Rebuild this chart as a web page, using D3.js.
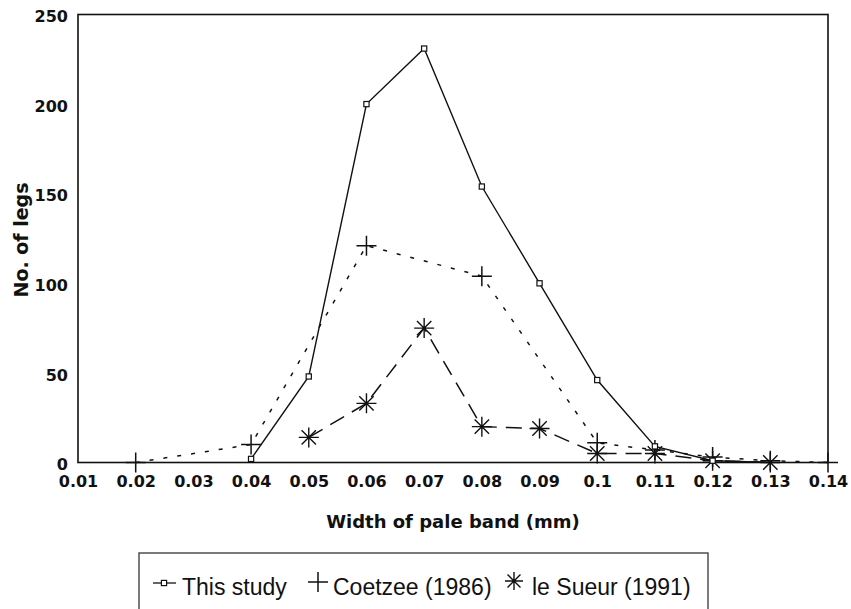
<!DOCTYPE html>
<html><head><meta charset="utf-8">
<script src="https://cdn.jsdelivr.net/npm/d3@7"></script>
<style>body{margin:0;background:#fff}svg{display:block}text{fill:#111}</style>
</head><body>
<svg id="c" width="851" height="609"></svg>
<script>
const xTicks = [0.01,0.02,0.03,0.04,0.05,0.06,0.07,0.08,0.09,0.1,0.11,0.12,0.13,0.14];
const yTicks = [0,50,100,150,200,250];
const thisStudyX = [0.04,0.05,0.06,0.07,0.08,0.09,0.1,0.11,0.12,0.13];
const thisStudyY = [2,48,200,231,154,100,46,9,1,0];
const coetzeeX = [0.02,0.04,0.06,0.08,0.1,0.11,0.12,0.13,0.14];
const coetzeeY = [0,10,121,104,11,7,3,1,0];
const sueurX = [0.05,0.06,0.07,0.08,0.09,0.1,0.11,0.12,0.13];
const sueurY = [14,33,75,20,19,5,5,1,0];
const legendLabels = ["This study","Coetzee (1986)","le Sueur (1991)"];

const svg = d3.select("#c");
const x = d3.scaleLinear().domain([0.01,0.14]).range([78,828]);
const y = d3.scaleLinear().domain([0,250]).range([462.5,14.5]);
const ink = "#111";
const axFont = "'DejaVu Sans',Verdana,sans-serif";
const lgFont = "Arial,'Liberation Sans',Helvetica,sans-serif";

svg.append("rect").attr("x",78).attr("y",14.5).attr("width",750).attr("height",448)
  .attr("fill","none").attr("stroke",ink).attr("stroke-width",1.6);

const xa = svg.append("g").attr("transform","translate(0,462.5)")
  .call(d3.axisBottom(x).tickValues(xTicks).tickSize(0).tickPadding(13).tickFormat(d=>String(+d.toFixed(2))));
xa.select(".domain").remove();
xa.selectAll("text").attr("font-size",16).attr("font-weight","bold").attr("font-family",axFont).style("fill",ink);
const ya = svg.append("g").attr("transform","translate(78,2)")
  .call(d3.axisLeft(y).tickValues(yTicks).tickSize(0).tickPadding(10));
ya.select(".domain").remove();
ya.selectAll("text").attr("font-size",16).attr("font-weight","bold").attr("font-family",axFont).style("fill",ink);

svg.append("text").attr("x",453).attr("y",528).attr("text-anchor","middle").attr("font-family",axFont)
  .attr("font-size",18).attr("font-weight","bold").text("Width of pale band (mm)");
svg.append("text").attr("transform","translate(28,240) rotate(-90)").attr("text-anchor","middle").attr("font-family",axFont)
  .attr("font-size",19).attr("font-weight","bold").text("No. of legs");

const line = d3.line().x(d=>x(d[0])).y(d=>y(d[1]));
const zip = (a,b)=>a.map((v,i)=>[v,b[i]]);
const ts = zip(thisStudyX,thisStudyY), co = zip(coetzeeX,coetzeeY), su = zip(sueurX,sueurY);

svg.append("path").datum(co).attr("d",line).attr("fill","none").attr("stroke",ink)
  .attr("stroke-width",1.5).attr("stroke-dasharray","4,10");
svg.append("path").datum(su).attr("d",line).attr("fill","none").attr("stroke",ink)
  .attr("stroke-width",1.5).attr("stroke-dasharray","16,9");
svg.append("path").datum(ts).attr("d",line).attr("fill","none").attr("stroke",ink)
  .attr("stroke-width",1.4);

function plus(g,cx,cy,s){
  g.append("path").attr("d",`M${cx-s},${cy}H${cx+s}M${cx},${cy-s}V${cy+s}`)
   .attr("stroke",ink).attr("stroke-width",1.5).attr("fill","none");
}
function star(g,cx,cy,s){
  const d=s*0.72;
  g.append("path").attr("d",`M${cx-s},${cy}H${cx+s}M${cx},${cy-s}V${cy+s}M${cx-d},${cy-d}L${cx+d},${cy+d}M${cx-d},${cy+d}L${cx+d},${cy-d}`)
   .attr("stroke",ink).attr("stroke-width",1.4).attr("fill","none");
}
function sq(g,cx,cy,s){
  g.append("rect").attr("x",cx-s).attr("y",cy-s).attr("width",2*s).attr("height",2*s)
   .attr("fill","#fff").attr("stroke",ink).attr("stroke-width",1.2);
}
const m = svg.append("g");
co.forEach(d=>plus(m,x(d[0]),y(d[1]),10));
su.forEach(d=>star(m,x(d[0]),y(d[1]),10));
ts.slice(0,9).forEach(d=>sq(m,x(d[0]),y(d[1]),2.6));

// legend
svg.append("rect").attr("x",139).attr("y",553).attr("width",569).attr("height",70)
  .attr("fill","none").attr("stroke","#444").attr("stroke-width",1.4);
const lg = svg.append("g");
lg.append("line").attr("x1",153).attr("x2",176).attr("y1",583).attr("y2",583).attr("stroke",ink).attr("stroke-width",1.3);
sq(lg,164,583,2.6);
lg.append("text").attr("x",182).attr("y",595).attr("font-size",23).attr("font-family",lgFont).text(legendLabels[0]);
plus(lg,318,582,10);
lg.append("text").attr("x",333).attr("y",595).attr("font-size",23).attr("font-family",lgFont).text(legendLabels[1]);
star(lg,514,581,9);
lg.append("text").attr("x",532).attr("y",595).attr("font-size",23).attr("font-family",lgFont).text(legendLabels[2]);
</script>
</body></html>
